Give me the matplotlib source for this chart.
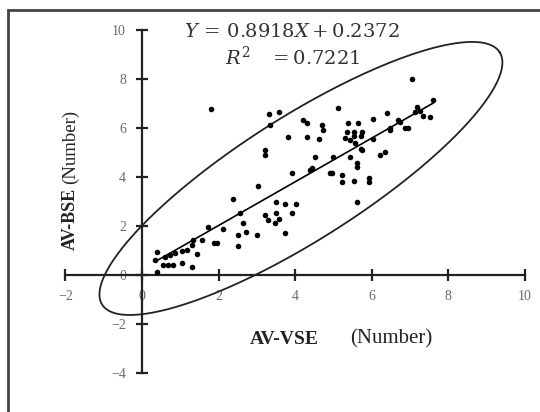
import numpy as np
import matplotlib
matplotlib.use('Agg')
import matplotlib.pyplot as plt
from matplotlib.patches import Rectangle

# AV-VSE vs AV-BSE counts
av_vse = [0.39, 0.34, 0.39, 0.55, 0.68, 0.81, 0.60, 0.73, 0.86, 1.05,
          1.04, 1.17, 1.30, 1.43, 1.30, 1.33, 1.57, 1.72, 1.88, 1.95,
          2.12, 2.38, 2.50, 2.50, 2.56, 2.64, 2.72, 3.00, 3.03, 3.21,
          3.29, 3.50, 3.50, 3.58, 3.47, 3.73, 4.02, 3.92, 3.73, 3.92,
          4.39, 4.90, 3.21, 3.21, 1.80, 3.32, 3.34, 3.58, 4.20, 4.30,
          4.70, 4.72, 3.81, 4.30, 4.62, 5.12, 5.38, 5.64, 6.03, 6.40,
          6.68, 6.87, 6.95, 6.48, 7.13, 7.05, 7.60, 7.18, 7.26, 7.34,
          7.52, 6.74, 5.35, 5.53, 5.74, 5.30, 5.53, 5.72, 5.43, 6.03,
          6.48, 5.56, 5.72, 4.52, 4.99, 5.43, 5.74, 6.21, 6.34, 5.61,
          5.61, 4.44, 4.96, 5.22, 5.22, 5.53, 5.93, 5.93, 5.61]
av_bse = [0.12, 0.61, 0.94, 0.41, 0.41, 0.41, 0.73, 0.82, 0.90, 0.98,
          0.49, 1.02, 0.33, 0.86, 1.22, 1.43, 1.43, 1.96, 1.31, 1.31,
          1.86, 3.10, 1.63, 1.18, 2.53, 2.12, 1.76, 1.63, 3.63, 2.45,
          2.24, 2.98, 2.53, 2.29, 2.12, 2.90, 2.90, 2.53, 1.71, 4.16,
          4.29, 4.16, 4.90, 5.10, 6.78, 6.57, 6.12, 6.65, 6.33, 6.20,
          6.12, 5.92, 5.63, 5.63, 5.55, 6.80, 6.20, 6.20, 6.37, 6.60,
          6.33, 6.00, 6.00, 6.00, 6.65, 8.00, 7.14, 6.86, 6.70, 6.50,
          6.45, 6.24, 5.84, 5.84, 5.84, 5.60, 5.67, 5.67, 5.51, 5.55,
          5.92, 5.39, 5.14, 4.82, 4.82, 4.82, 5.10, 4.90, 5.00, 4.57,
          4.41, 4.37, 4.16, 4.08, 3.80, 3.84, 3.96, 3.80, 2.98]

slope = 0.8918
intercept = 0.2372
r2 = 0.7221

# confidence ellipse: centre and half-axis vectors (data units)
ell_center = (4.15, 3.94)
ell_major = (5.19, 5.15)
ell_minor = (-0.86, 2.13)

x_ticks = [-2, 0, 2, 4, 6, 8, 10]
y_ticks = [-4, -2, 0, 2, 4, 6, 8, 10]

plt.rcParams['font.family'] = ['Liberation Serif', 'DejaVu Serif']
plt.rcParams['mathtext.fontset'] = 'dejavuserif'

fig = plt.figure(figsize=(5.4, 4.12), dpi=100)
ax = fig.add_axes([0.1211, 0.0947, 0.8511, 0.8325])

ax.scatter(av_vse, av_bse, s=16, color='black', zorder=3, linewidths=0)

xs = np.array([min(av_vse), max(av_vse)])
ax.plot(xs, slope * xs + intercept, color='black', lw=1.2)

t = np.linspace(0, 2 * np.pi, 400)
ex = ell_center[0] + ell_major[0] * np.cos(t) + ell_minor[0] * np.sin(t)
ey = ell_center[1] + ell_major[1] * np.cos(t) + ell_minor[1] * np.sin(t)
ax.plot(ex, ey, color='#222222', lw=1.3)

ax.set_xlim(-2, 10)
ax.set_ylim(-4, 10)
ax.spines['left'].set_position(('data', 0))
ax.spines['bottom'].set_position(('data', 0))
ax.spines['right'].set_visible(False)
ax.spines['top'].set_visible(False)
for s in ['left', 'bottom']:
    ax.spines[s].set_linewidth(1.6)
    ax.spines[s].set_color('#222222')
ax.set_xticks(x_ticks)
ax.set_yticks(y_ticks)
ax.tick_params(direction='inout', length=9, width=1.6, color='#222222',
               labelsize=10, labelcolor='#6a6a6a')
ax.tick_params(axis='y', pad=7)
ax.tick_params(axis='x', pad=6)
ax.patch.set_alpha(0)

ax.text(0.493, 0.994, r'$Y\,=\,0.8918X+0.2372$', transform=ax.transAxes,
        ha='center', va='center', fontsize=14, color='#333333')
ax.text(0.495, 0.921, r'$R^2\ \ \ =0.7221$', transform=ax.transAxes,
        ha='center', va='center', fontsize=14, color='#333333')

fig.text(0.463, 0.177, 'AV-VSE', fontweight='bold', fontsize=14,
         ha='left', va='center', color='#222222')
fig.text(0.648, 0.177, '(Number)', fontsize=15, ha='left', va='center',
         color='#222222')
fig.text(0.130, 0.393, 'AV-BSE', fontweight='bold', fontsize=13,
         rotation=90, ha='center', va='bottom', color='#222222')
fig.text(0.130, 0.553, '(Number)', fontsize=13.5, rotation=90,
         ha='center', va='bottom', color='#222222')

fig.add_artist(Rectangle((8 / 540, -0.1), 1.2, 1 - 10 / 412 + 0.1,
                         transform=fig.transFigure, fill=False,
                         edgecolor='#444444', lw=2))

fig.savefig('out.png', dpi=100)
